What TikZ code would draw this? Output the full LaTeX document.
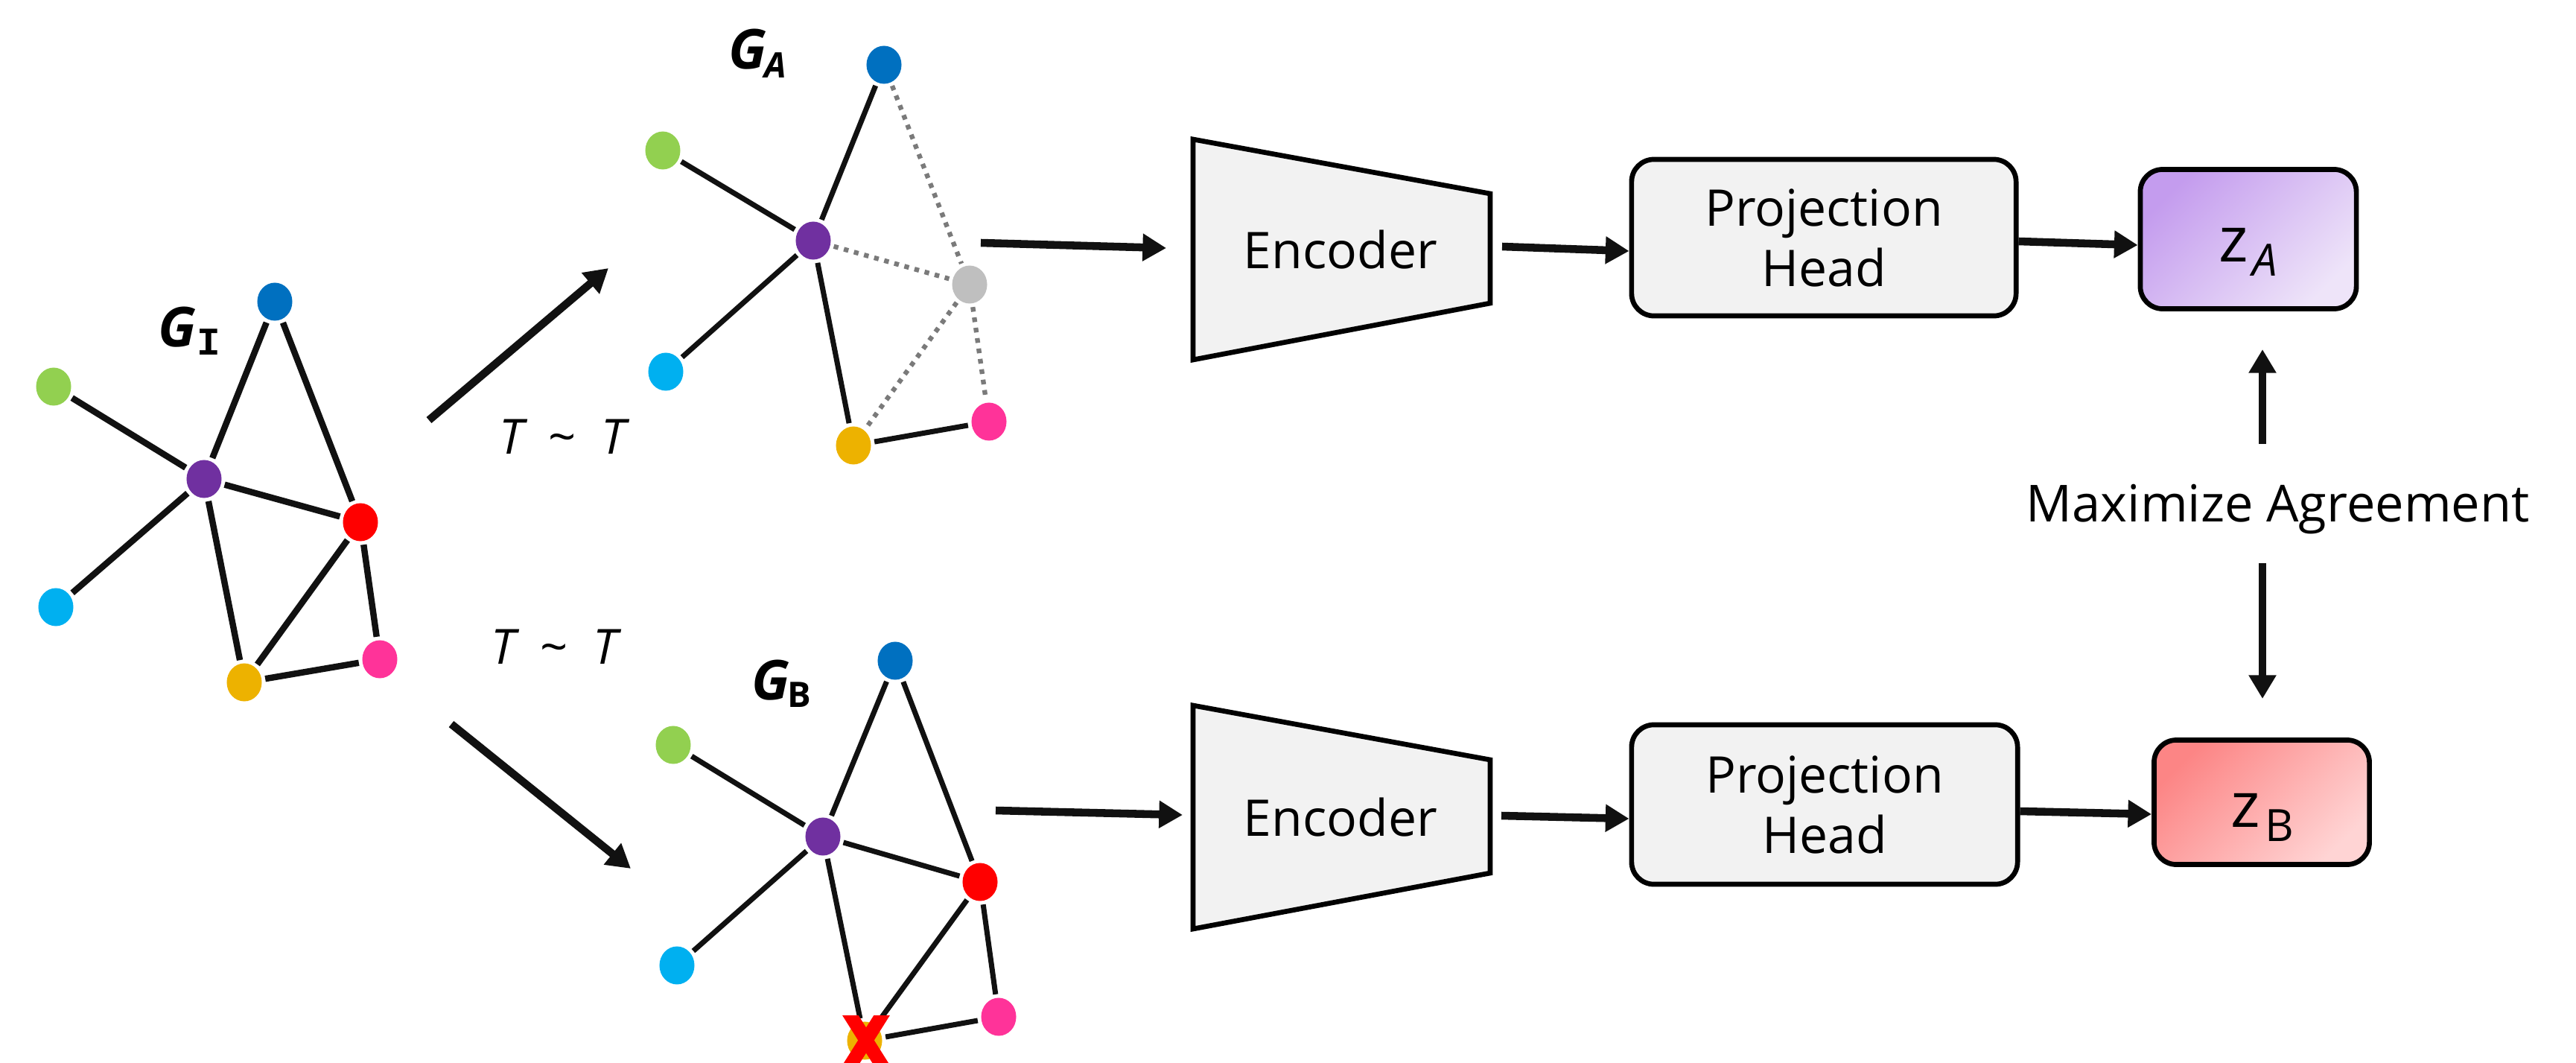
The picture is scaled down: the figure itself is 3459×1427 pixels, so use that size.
\documentclass[tikz,border=0pt]{standalone}
\usepackage{fontspec}
\setmainfont{Open Sans}
\newfontfamily\serifmono{Liberation Mono}
\usetikzlibrary{arrows.meta,shapes.geometric}
\definecolor{nblue}{HTML}{0070C0}
\definecolor{ngreen}{HTML}{92D050}
\definecolor{npurple}{HTML}{7030A0}
\definecolor{nred}{HTML}{FF0000}
\definecolor{ncyan}{HTML}{00B0F0}
\definecolor{nyellow}{HTML}{EDB200}
\definecolor{npink}{HTML}{FF3399}
\definecolor{ngray}{HTML}{BFBFBF}
\definecolor{dotgray}{HTML}{7A7A7A}
\definecolor{boxfill}{HTML}{F2F2F2}
\definecolor{zAtop}{HTML}{C49CEE}
\definecolor{zAbot}{HTML}{EEE4F9}
\definecolor{zBtop}{HTML}{FC8585}
\definecolor{zBbot}{HTML}{FFD4D4}
\definecolor{ink}{HTML}{111111}
\begin{document}
\begin{tikzpicture}[x=0.01cm,y=-0.01cm,
  gnode/.style={ellipse,inner sep=0pt,minimum width=0.47cm,minimum height=0.51cm,outer sep=0.05cm},
  gedgeI/.style={line width=2.4pt,draw=ink},
  gedge/.style={line width=2pt,draw=ink},
  dedge/.style={line width=1.8pt,draw=dotgray,dash pattern=on 1.8pt off 2.2pt},
  flow/.style={line width=3pt,draw=ink,-{Triangle[length=9pt,width=10pt]}},
  boxst/.style={draw=black,line width=1.9pt,rounded corners=0.3cm},
  txt/.style={inner sep=0pt,font=\fontsize{19.3}{23}\selectfont},
  glab/.style={inner sep=0pt,anchor=base west,font=\fontsize{21}{24}\bfseries\itshape\selectfont},
  gsub/.style={inner sep=0pt,anchor=base west,font=\fontsize{13.4}{15}\bfseries\selectfont},
  tlab/.style={inner sep=0pt,anchor=base west,font=\fontsize{18.5}{22}\selectfont},
]
\useasboundingbox (0,0) rectangle (3459,1427);

% ---------- G_I ----------
\node[gnode,fill=nblue]   (iblue)   at (369,405) {};
\node[gnode,fill=ngreen]  (igreen)  at (72,519) {};
\node[gnode,fill=npurple] (ipurple) at (274,643) {};
\node[gnode,fill=nred]    (ired)    at (484,701) {};
\node[gnode,fill=ncyan]   (icyan)   at (75,815) {};
\node[gnode,fill=nyellow] (iyellow) at (328,916) {};
\node[gnode,fill=npink]   (ipink)   at (510,885) {};
\draw[gedgeI] (igreen) -- (ipurple);
\draw[gedgeI] (icyan) -- (ipurple);
\draw[gedgeI] (ipurple) -- (iblue);
\draw[gedgeI] (iblue) -- (ired);
\draw[gedgeI] (ipurple) -- (ired);
\draw[gedgeI] (ipurple) -- (iyellow);
\draw[gedgeI] (iyellow) -- (ired);
\draw[gedgeI] (ired) -- (ipink);
\draw[gedgeI] (iyellow) -- (ipink);
\node[glab] (lgI) at (212,465) {G};
\node[inner sep=0pt,anchor=base west,font=\fontsize{15}{17}\serifmono\bfseries\selectfont] (lgIs) at (264,476) {I};

% ---------- G_A ----------
\node[gnode,fill=nblue]   (ablue)   at (1187,87) {};
\node[gnode,fill=ngreen]  (agreen)  at (890,202) {};
\node[gnode,fill=npurple] (apurple) at (1092,323) {};
\node[gnode,fill=ngray]   (agray)   at (1302,382) {};
\node[gnode,fill=ncyan]   (acyan)   at (894,499) {};
\node[gnode,fill=nyellow] (ayellow) at (1146,598) {};
\node[gnode,fill=npink]   (apink)   at (1328,566) {};
\draw[gedge] (agreen) -- (apurple);
\draw[gedge] (acyan) -- (apurple);
\draw[gedge] (apurple) -- (ablue);
\draw[gedge] (apurple) -- (ayellow);
\draw[gedge] (ayellow) -- (apink);
\draw[dedge] (ablue) -- (agray);
\draw[dedge] (apurple) -- (agray);
\draw[dedge] (agray) -- (ayellow);
\draw[dedge] (agray) -- (apink);
\node[glab] (lgA) at (978,93) {G};
\node[gsub] (lgAs) at (1026,104) {\itshape A};

% ---------- G_B ----------
\node[gnode,fill=nblue]   (bblue)   at (1202,887) {};
\node[gnode,fill=ngreen]  (bgreen)  at (904,1000) {};
\node[gnode,fill=npurple] (bpurple) at (1105,1123) {};
\node[gnode,fill=nred]    (bred)    at (1316,1184) {};
\node[gnode,fill=ncyan]   (bcyan)   at (909,1296) {};
\node[gnode,fill=nyellow] (byellow) at (1161,1397) {};
\node[gnode,fill=npink]   (bpink)   at (1341,1365) {};
\draw[gedge] (bgreen) -- (bpurple);
\draw[gedge] (bcyan) -- (bpurple);
\draw[gedge] (bpurple) -- (bblue);
\draw[gedge] (bblue) -- (bred);
\draw[gedge] (bpurple) -- (bred);
\draw[gedge] (bpurple) -- (byellow);
\draw[gedge] (bred) -- (byellow);
\draw[gedge] (bred) -- (bpink);
\draw[gedge] (byellow) -- (bpink);
\node[glab] (lgB) at (1009,939) {G};
\node[gsub] (lgBs) at (1057,949) {B};
\begin{scope}
  \clip (1100,1363) rectangle (1230,1440);
  \draw[red,line width=5.2pt] (1128,1341) -- (1198,1452);
  \draw[red,line width=5.2pt] (1198,1341) -- (1128,1452);
\end{scope}

% ---------- augmentation arrows ----------
\coordinate (augAs) at (576,564);
\coordinate (augAe) at (817,360);
\coordinate (augBs) at (606,972);
\coordinate (augBe) at (847,1166);
\draw[flow] (augAs) -- (augAe);
\draw[flow] (augBs) -- (augBe);
\node[tlab] (tA) at (670,609) {\itshape T\hspace{9.5pt}\upshape\textasciitilde\hspace{9.5pt}\itshape T};
\node[tlab] (tB) at (659,891) {\itshape T\hspace{9.5pt}\upshape\textasciitilde\hspace{9.5pt}\itshape T};

% ---------- encoders ----------
\draw[line width=1.9pt,fill=boxfill,line join=miter] (1602,187) -- (2001,260) -- (2001,407) -- (1602,483) -- cycle;
\draw[line width=1.9pt,fill=boxfill,line join=miter] (1602,947) -- (2001,1020) -- (2001,1172) -- (1602,1247) -- cycle;
\node[txt] (encA) at (1800,335) {Encoder};
\node[txt] (encB) at (1800,1097) {Encoder};

% ---------- projection heads ----------
\node[boxst,fill=boxfill,minimum width=5.16cm,minimum height=2.1cm,align=center,font=\fontsize{19.3}{23}\selectfont] (pA) at (2449,319) {Projection\\Head};
\node[boxst,fill=boxfill,minimum width=5.18cm,minimum height=2.14cm,align=center,font=\fontsize{19.3}{23}\selectfont] (pB) at (2450,1080) {Projection\\Head};

% ---------- z boxes ----------
\node[boxst,top color=zAtop,bottom color=zAbot,shading angle=45,minimum width=2.9cm,minimum height=1.87cm] (zA) at (3019,321) {};
\node[boxst,top color=zBtop,bottom color=zBbot,shading angle=45,minimum width=2.89cm,minimum height=1.67cm] (zB) at (3037,1077) {};
\node[inner sep=0pt,anchor=base west,font=\fontsize{24}{28}\selectfont] (zAz) at (2979,351) {z};
\node[inner sep=0pt,anchor=base west,font=\fontsize{17}{20}\itshape\selectfont] (zAs) at (3024,370) {A};
\node[inner sep=0pt,anchor=base west,font=\fontsize{24}{28}\selectfont] (zBz) at (2995,1110) {z};
\node[inner sep=0pt,anchor=base west,font=\fontsize{17}{20}\selectfont] (zBs) at (3041,1129) {B};

% ---------- flow arrows ----------
\coordinate (gAo) at (1317,326);
\coordinate (encAi) at (1566,333);
\coordinate (gBo) at (1337,1088);
\coordinate (encBi) at (1588,1094);
\coordinate (encAo) at (2017,331);
\coordinate (encBo) at (2016,1095);
\draw[flow] (gAo) -- (encAi);
\draw[flow] (gBo) -- (encBi);
\draw[flow] (encAo) -- (pA.west |- 0,337);
\draw[flow] (encBo) -- (pB.west |- 0,1099);
\draw[flow] (pA.east |- 0,324) -- (zA.west |- 0,329);
\draw[flow] (pB.east |- 0,1089) -- (zB.west |- 0,1093);

% ---------- maximize agreement ----------
\node[inner sep=0pt,anchor=base west,font=\fontsize{19.5}{23}\selectfont] (maxag) at (2720,700) {Maximize Agreement};
\coordinate (upS) at (3038,596);
\coordinate (upE) at (3038,469);
\coordinate (dnS) at (3038,756);
\coordinate (dnE) at (3038,938);
\draw[flow] (upS) -- (upE);
\draw[flow] (dnS) -- (dnE);
\end{tikzpicture}
\end{document}
